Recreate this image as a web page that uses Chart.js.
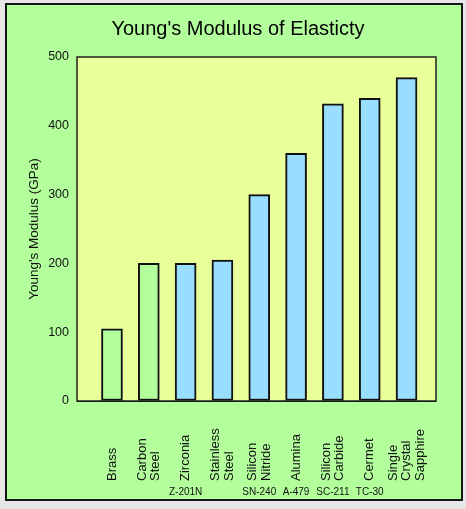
<!DOCTYPE html>
<html>
<head>
<meta charset="utf-8">
<title>Young's Modulus of Elasticty</title>
<script src="https://cdn.jsdelivr.net/npm/chart.js@4.4.1/dist/chart.umd.min.js"></script>
<style>
    html, body { margin: 0; padding: 0; background: #e6e6e6; }
    #frame {
        position: absolute;
        left: 5px;
        top: 3px;
        width: 454px;
        height: 494px;
        border: 2px solid #151515;
        background: #b2ff9c;
    }
    canvas { display: block; }
</style>
</head>
<body>
<div id="frame">
    <canvas id="modulusChart" width="454" height="494"></canvas>
</div>
<script>
// materials, one entry per bar (lines of the rotated label)
const materials = [
    ['Brass'],
    ['Carbon', 'Steel'],
    ['Zirconia'],
    ['Stainless', 'Steel'],
    ['Silicon', 'Nitride'],
    ['Alumina'],
    ['Silicon', 'Carbide'],
    ['Cermet'],
    ['Single', 'Crystal', 'Sapphire']
];
const grades = ['', '', 'Z-201N', '', 'SN-240', 'A-479', 'SC-211', 'TC-30', ''];
const modulus = [105, 200, 200, 205, 300, 360, 432, 440, 470];
const yTicks = [0, 100, 200, 300, 400, 500];
const chartTitle = "Young's Modulus of Elasticty";

const metalColor = '#b2ff9c';
const ceramicColor = '#99ddff';
const barColors = ['metal', 'metal', 'ceramic', 'ceramic', 'ceramic', 'ceramic', 'ceramic', 'ceramic', 'ceramic']
    .map(k => k === 'metal' ? metalColor : ceramicColor);

document.addEventListener('DOMContentLoaded', function() {
    const ctx = document.getElementById('modulusChart').getContext('2d');
    Chart.defaults.font.family = '"Liberation Sans", Arial, Helvetica, sans-serif';
    Chart.defaults.color = '#111';

    // yellow plot background, dark border round the chart area, and the title
    const plotArea = {
        id: 'plotArea',
        beforeDatasetsDraw(chart) {
            const a = chart.chartArea;
            const c = chart.ctx;
            c.save();
            c.fillStyle = '#e8ff9a';
            c.fillRect(a.left, a.top, a.right - a.left, a.bottom - a.top);
            c.restore();
        },
        afterDraw(chart) {
            const a = chart.chartArea;
            const c = chart.ctx;
            c.save();
            c.strokeStyle = '#222';
            c.lineWidth = 1.5;
            c.strokeRect(a.left, a.top, a.right - a.left, a.bottom - a.top);
            c.fillStyle = '#000';
            c.font = '20px "Liberation Sans", Arial, sans-serif';
            c.textAlign = 'center';
            c.textBaseline = 'middle';
            c.fillText(chartTitle, 231, 24);
            c.restore();
        }
    };

    // rotated category labels, bottom aligned, plus grade codes underneath
    const categoryLabels = {
        id: 'categoryLabels',
        afterDraw(chart) {
            const xs = chart.scales.x;
            const c = chart.ctx;
            const baseY = chart.chartArea.bottom + 80;
            const lineH = 13.5;
            c.save();
            c.fillStyle = '#111';
            materials.forEach((lines, i) => {
                const x = xs.getPixelForValue(i);
                c.save();
                c.translate(x, baseY);
                c.rotate(-Math.PI / 2);
                c.font = '13px "Liberation Sans", Arial, sans-serif';
                c.textAlign = 'left';
                c.textBaseline = 'middle';
                lines.forEach((line, j) => {
                    c.fillText(line, 0, (j - (lines.length - 1) / 2) * lineH);
                });
                c.restore();
                if (grades[i]) {
                    c.font = '10px "Liberation Sans", Arial, sans-serif';
                    c.textAlign = 'center';
                    c.textBaseline = 'middle';
                    c.fillText(grades[i], x, baseY + 11);
                }
            });
            c.restore();
        }
    };

    new Chart(ctx, {
        type: 'bar',
        data: {
            datasets: [{
                label: "Young's Modulus",
                data: modulus.map((v, i) => ({ x: i, y: v })),
                backgroundColor: barColors,
                borderColor: '#111',
                borderWidth: 2,
                borderSkipped: false,
                barThickness: 21
            }]
        },
        options: {
            responsive: false,
            animation: false,
            layout: {
                padding: { top: 52, right: 25, bottom: 98, left: 0 }
            },
            plugins: {
                legend: { display: false },
                tooltip: { enabled: false },
                title: { display: false }
            },
            scales: {
                x: {
                    type: 'linear',
                    display: false,
                    offset: false,
                    min: -0.95,
                    max: 8.8
                },
                y: {
                    min: yTicks[0],
                    max: yTicks[yTicks.length - 1],
                    z: 1,
                    afterFit(scale) { scale.width = 70; },
                    afterBuildTicks(scale) { scale.ticks = yTicks.map(v => ({ value: v })); },
                    border: { display: false },
                    grid: {
                        color: '#000',
                        lineWidth: 1,
                        drawTicks: false
                    },
                    ticks: {
                        padding: 8,
                        color: '#111',
                        font: { size: 12.5 }
                    },
                    title: {
                        display: true,
                        text: "Young's Modulus (GPa)",
                        color: '#111',
                        font: { size: 13.5 },
                        padding: { top: 19, bottom: 0 }
                    }
                }
            }
        },
        plugins: [plotArea, categoryLabels]
    });
});
</script>
</body>
</html>
